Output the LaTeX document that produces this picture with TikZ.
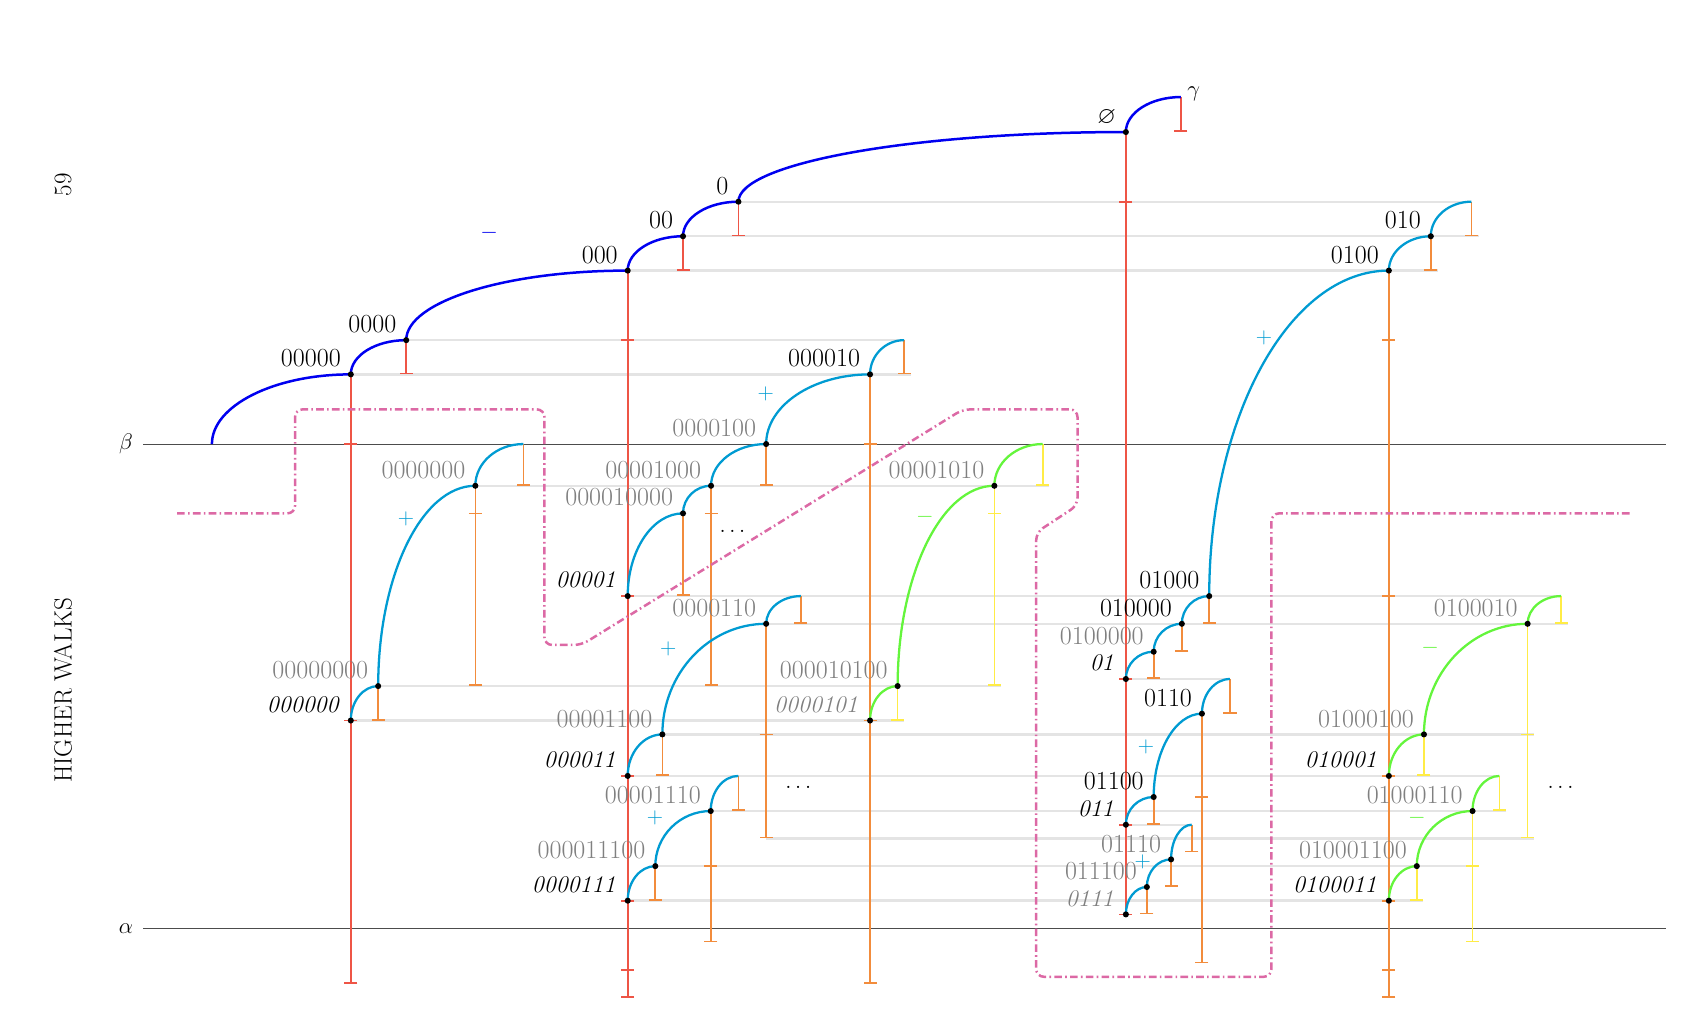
\documentclass[tikz,border=0pt]{standalone}
\usepackage{amssymb}
\usetikzlibrary{calc,arrows.meta}
\definecolor{cBlue}{RGB}{0,0,240}
\definecolor{cCyan}{RGB}{0,155,210}
\definecolor{cGreen}{RGB}{100,245,60}
\definecolor{cRed}{RGB}{238,85,70}
\definecolor{cOrange}{RGB}{242,140,60}
\definecolor{cYellow}{RGB}{255,236,70}
\definecolor{cPink}{RGB}{220,105,165}
\definecolor{cGrayLn}{RGB}{228,228,228}
\definecolor{cText}{RGB}{128,128,128}
\newcommand\stemtick[2]{\draw[#1] (#2) ++(-6,0) -- ++(12,0);}
\begin{document}
\begin{tikzpicture}[x=1pt,y=-1pt,
  every node/.style={font=\fontsize{22}{26}\selectfont, inner sep=0pt},
  qa/.style={to path={.. controls ($(\tikztostart)!0.552!(\tikztostart|-\tikztotarget)$) and ($(\tikztotarget)!0.552!(\tikztostart|-\tikztotarget)$) .. (\tikztotarget)}},
  gl/.style={line width=2.2pt, draw=cGrayLn},
  ax/.style={line width=0.9pt, draw=black!70},
  sR/.style={line width=1.5pt, draw=cRed},
  sO/.style={line width=1.5pt, draw=cOrange},
  sY/.style={line width=1.5pt, draw=cYellow},
  tb/.style={-{Bar[width=12pt]}},
  cvB/.style={line width=2.3pt, draw=cBlue},
  cvC/.style={line width=2.1pt, draw=cCyan},
  cvG/.style={line width=2.1pt, draw=cGreen},
  pinkdd/.style={line width=2.3pt, draw=cPink, dash pattern=on 7pt off 3pt on 1.5pt off 3pt, rounded corners=7pt},
  lk/.style={anchor=base east, xshift=-9pt, yshift=6.8pt, font=\fontsize{24}{28}\selectfont},
  lki/.style={anchor=base east, xshift=-11pt, yshift=7.5pt, font=\fontsize{22}{26}\selectfont\itshape},
  lg/.style={lk, text=cText},
  lgi/.style={lki, text=cText},
  sidetxt/.style={rotate=90, font=\fontsize{23}{27}\selectfont}
]
\useasboundingbox (0,0) rectangle (1568,933);
% root chain
\coordinate (r0) at (195,408.6);
\coordinate (n5) at (322.8,344.5);
\coordinate (n4) at (373.8,313);
\coordinate (n3) at (577.6,249);
\coordinate (n2) at (628.5,217.4);
\coordinate (n1) at (679.5,185.6);
\coordinate (ne) at (1036,121.5);
\coordinate (ng) at (1086.6,89.3);
% chain a
\coordinate (a0) at (322.8,663);
\coordinate (a1) at (348,631.3);
\coordinate (a2) at (437.4,447);
\coordinate (a3) at (481.6,408.6);
% chain b
\coordinate (b0) at (577.6,548.5);
\coordinate (b1) at (628.5,472.4);
\coordinate (b2) at (654.3,447);
\coordinate (b3) at (705,408.6);
\coordinate (b4) at (800.6,344.5);
\coordinate (b5) at (832,313);
% chain c
\coordinate (c0) at (800.6,663);
\coordinate (c1) at (826,631.3);
\coordinate (c2) at (915,447);
\coordinate (c3) at (959.5,408.6);
% chain d
\coordinate (d0) at (577.6,714);
\coordinate (d1) at (609.5,675.8);
\coordinate (d2) at (705,574);
\coordinate (d3) at (737,548.5);
% chain e
\coordinate (e0) at (577.6,828.8);
\coordinate (e1) at (603,797);
\coordinate (e2) at (654,746.3);
\coordinate (e3) at (679.4,714);
% chain f
\coordinate (f0) at (1036,624.8);
\coordinate (f1) at (1061.6,599.7);
\coordinate (f2) at (1087.5,574);
\coordinate (f3) at (1112.7,548.5);
\coordinate (f4) at (1278,249);
\coordinate (f5) at (1316.6,217.4);
\coordinate (f6) at (1354,185.6);
% chain g
\coordinate (g0) at (1036,758.9);
\coordinate (g1) at (1061.6,733.4);
\coordinate (g2) at (1106,656.7);
\coordinate (g3) at (1131.8,624.8);
% chain h
\coordinate (h0) at (1036,841.4);
\coordinate (h1) at (1055.3,816.2);
\coordinate (h2) at (1077.6,790.8);
\coordinate (h3) at (1096.6,758.9);
% chain i
\coordinate (i0) at (1278,714);
\coordinate (i1) at (1310.3,675.8);
\coordinate (i2) at (1405.7,574);
\coordinate (i3) at (1436.5,548.5);
% chain j
\coordinate (j0) at (1278,828.8);
\coordinate (j1) at (1303.7,797);
\coordinate (j2) at (1355,746.3);
\coordinate (j3) at (1379.7,714);
% levels
\coordinate (L472) at (0,472.4);
\coordinate (L771) at (0,771.5);
\coordinate (L784) at (0,784.3);
\coordinate (L867) at (0,867);
\coordinate (L886) at (0,886.5);
\coordinate (L892) at (0,892.6);
\coordinate (L905) at (0,905.3);
\coordinate (L918) at (0,918);
\coordinate (bL) at (132,408.6);
\coordinate (bR) at (1533,408.6);
\coordinate (aL) at (132,854.3);
\coordinate (aR) at (1533,854.3);

% gray level lines
\draw[gl] (n1) -- (f6);
\draw[gl] (n2) -- (1361,217.4);
\draw[gl] (n3) -- (1323,249);
\draw[gl] (n4) -- (b5);
\draw[gl] (n5) -- (838,344.5);
\draw[gl] (a2) -- (965.5,447);
\draw[gl] (b0) -- (i3);
\draw[gl] (d2) -- (1442.5,574);
\draw[gl] (f0) -- (g3);
\draw[gl] (a1) -- (921,631.3);
\draw[gl] (a0) -- (832,663);
\draw[gl] (d1) -- (1411.7,675.8);
\draw[gl] (d0) -- (j3);
\draw[gl] (e2) -- (1385.7,746.3);
\draw[gl] (g0) -- (h3);
\draw[gl] (d2|-L771) -- (1411.7,771.5);
\draw[gl] (e1) -- (1361,797);
\draw[gl] (e0) -- (1309.7,828.8);

% axes
\draw[ax] (bL) -- (bR);
\draw[ax] (aL) -- (aR);
\node (beta) at (116,408.6) {$\beta$};
\node (alpha) at (116,854.3) {$\alpha$};
\node[sidetxt] (pg) at (58,170) {59};
\node[sidetxt] (hw) at (58,635) {HIGHER WALKS};

% red stems
\draw[sR,tb] (n4) -- (n4|-n5);
\draw[sR,tb] (n2) -- (n2|-n3);
\draw[sR,tb] (n1) -- (n1|-n2);
\draw[sR,tb] (ng) -- (ng|-ne);
\draw[sR,tb] (n5) -- (n5|-L905);
\stemtick{sR}{n5|-r0} \stemtick{sR}{a0}
\draw[sR,tb] (n3) -- (n3|-L918);
\stemtick{sR}{n3|-n4} \stemtick{sR}{b0} \stemtick{sR}{d0} \stemtick{sR}{e0} \stemtick{sR}{n3|-L892}
\draw[sR] (ne) -- (h0);
\stemtick{sR}{ne|-n1} \stemtick{sR}{f0} \stemtick{sR}{g0} \stemtick{sR}{h0}

% orange stems
\draw[sO,tb] (a1) -- (a1|-a0);
\draw[sO,tb] (a2) -- (a2|-a1); \stemtick{sO}{a2|-L472}
\draw[sO,tb] (a3) -- (a3|-a2);
\draw[sO,tb] (b1) -- (b1|-b0);
\draw[sO,tb] (b2) -- (b2|-a1); \stemtick{sO}{b2|-L472}
\draw[sO,tb] (b3) -- (b3|-b2);
\draw[sO,tb] (b4) -- (b4|-L905); \stemtick{sO}{b4|-r0} \stemtick{sO}{c0}
\draw[sO,tb] (b5) -- (b5|-b4);
\draw[sO,tb] (d1) -- (d1|-d0);
\draw[sO,tb] (d2) -- (d2|-L771); \stemtick{sO}{d2|-d1}
\draw[sO,tb] (d3) -- (d3|-d2);
\draw[sO,tb] (e1) -- (e1|-e0);
\draw[sO,tb] (e2) -- (e2|-L867); \stemtick{sO}{e2|-e1}
\draw[sO,tb] (e3) -- (e3|-e2);
\draw[sO,tb] (f1) -- (f1|-f0);
\draw[sO,tb] (f2) -- (f2|-f1);
\draw[sO,tb] (f3) -- (f3|-f2);
\draw[sO,tb] (f4) -- (f4|-L918);
\stemtick{sO}{f4|-n4} \stemtick{sO}{f4|-f3} \stemtick{sO}{i0} \stemtick{sO}{j0} \stemtick{sO}{f4|-L892}
\draw[sO,tb] (f5) -- (f5|-f4);
\draw[sO,tb] (f6) -- (f6|-f5);
\draw[sO,tb] (g1) -- (g1|-g0);
\draw[sO,tb] (g2) -- (g2|-L886); \stemtick{sO}{g2|-g1}
\draw[sO,tb] (g3) -- (g3|-g2);
\draw[sO,tb] (h1) -- (h1|-h0);
\draw[sO,tb] (h2) -- (h2|-h1);
\draw[sO,tb] (h3) -- (h3|-L784);

% yellow stems
\draw[sY,tb] (c1) -- (c1|-c0);
\draw[sY,tb] (c2) -- (c2|-c1); \stemtick{sY}{c2|-L472}
\draw[sY,tb] (c3) -- (c3|-c2);
\draw[sY,tb] (i1) -- (i1|-i0);
\draw[sY,tb] (i2) -- (i2|-L771); \stemtick{sY}{i2|-i1}
\draw[sY,tb] (i3) -- (i3|-i2);
\draw[sY,tb] (j1) -- (j1|-j0);
\draw[sY,tb] (j2) -- (j2|-L867); \stemtick{sY}{j2|-j1}
\draw[sY,tb] (j3) -- (j3|-j2);

% pink dash-dot boundary
\draw[pinkdd] (163,472.4) -- (271.5,472.4) -- (271.5,376.7) -- (501,376.7) -- (501,593.5) -- (535,593.5) -- (886,376.7) -- (991.5,376.7) -- (991.5,465) -- (953.5,490) -- (953.5,898.8) -- (1170,898.8) -- (1170,472.4) -- (1501.5,472.4);

% walks
\draw[cvB] (r0) to[qa] (n5) to[qa] (n4) to[qa] (n3) to[qa] (n2) to[qa] (n1) to[qa] (ne) to[qa] (ng);
\draw[cvC] (a0) to[qa] (a1) to[qa] (a2) to[qa] (a3);
\draw[cvC] (b0) to[qa] (b1) to[qa] (b2) to[qa] (b3) to[qa] (b4) to[qa] (b5);
\draw[cvG] (c0) to[qa] (c1) to[qa] (c2) to[qa] (c3);
\draw[cvC] (d0) to[qa] (d1) to[qa] (d2) to[qa] (d3);
\draw[cvC] (e0) to[qa] (e1) to[qa] (e2) to[qa] (e3);
\draw[cvC] (f0) to[qa] (f1) to[qa] (f2) to[qa] (f3) to[qa] (f4) to[qa] (f5) to[qa] (f6);
\draw[cvC] (g0) to[qa] (g1) to[qa] (g2) to[qa] (g3);
\draw[cvC] (h0) to[qa] (h1) to[qa] (h2) to[qa] (h3);
\draw[cvG] (i0) to[qa] (i1) to[qa] (i2) to[qa] (i3);
\draw[cvG] (j0) to[qa] (j1) to[qa] (j2) to[qa] (j3);

% dots
\foreach \p in {n5,n4,n3,n2,n1,ne,a0,a1,a2,b0,b1,b2,b3,b4,c0,c1,c2,d0,d1,d2,e0,e1,e2,f0,f1,f2,f3,f4,f5,g0,g1,g2,h0,h1,h2,i0,i1,i2,j0,j1,j2}
  \fill[black] (\p) circle[radius=2.8pt];

% labels: black upright
\node[lk] (t-n5) at (n5) {00000};
\node[lk] (t-n4) at (n4) {0000};
\node[lk] (t-n3) at (n3) {000};
\node[lk] (t-n2) at (n2) {00};
\node[lk] (t-n1) at (n1) {0};
\node[anchor=base east, xshift=-9pt, yshift=7.5pt] (t-ne) at (ne) {$\varnothing$};
\node[anchor=west] (t-ng) at (1092.5,86) {$\gamma$};
\node[lk] (t-b4) at (b4) {000010};
\node[lk] (t-f5) at (f5) {010};
\node[lk] (t-f4) at (f4) {0100};
\node[lk] (t-f3) at (f3) {01000};
\node[lk] (t-f2) at (f2) {010000};
\node[lk] (t-g2) at (g2) {0110};
\node[lk] (t-g1) at (g1) {01100};
% black italic
\node[lki] (t-a0) at (a0) {000000};
\node[lki] (t-b0) at (b0) {00001};
\node[lki] (t-d0) at (d0) {000011};
\node[lki] (t-e0) at (e0) {0000111};
\node[lki] (t-f0) at (f0) {01};
\node[lki] (t-g0) at (g0) {011};
\node[lki] (t-i0) at (i0) {010001};
\node[lki] (t-j0) at (j0) {0100011};
% gray italic
\node[lgi] (t-c0) at (c0) {0000101};
\node[lgi] (t-h0) at (h0) {0111};
% gray upright
\node[lg] (t-a1) at (a1) {00000000};
\node[lg] (t-a2) at (a2) {0000000};
\node[lg] (t-b1) at (b1) {000010000};
\node[lg] (t-b2) at (b2) {00001000};
\node[lg] (t-b3) at (b3) {0000100};
\node[lg] (t-c1) at (c1) {000010100};
\node[lg] (t-c2) at (c2) {00001010};
\node[lg] (t-d1) at (d1) {00001100};
\node[lg] (t-d2) at (d2) {0000110};
\node[lg] (t-e1) at (e1) {000011100};
\node[lg] (t-e2) at (e2) {00001110};
\node[lg] (t-f1) at (f1) {0100000};
\node[lg] (t-h1) at (h1) {011100};
\node[lg] (t-h2) at (h2) {01110};
\node[lg] (t-i1) at (i1) {01000100};
\node[lg] (t-i2) at (i2) {0100010};
\node[lg] (t-j1) at (j1) {010001100};
\node[lg] (t-j2) at (j2) {01000110};

% signs
\node[text=cBlue] (m1) at (450,214.6) {$-$};
\node[text=cCyan] (p1) at (373.6,477) {$+$};
\node[text=cCyan] (p2) at (704.6,362) {$+$};
\node[text=cCyan] (p3) at (615,597.5) {$+$};
\node[text=cCyan] (p4) at (602.8,753) {$+$};
\node[text=cCyan] (p5) at (1163,311.3) {$+$};
\node[text=cCyan] (p6) at (1054.6,687) {$+$};
\node[text=cCyan] (p7) at (1051.6,793) {$+$};
\node[text=cGreen] (m2) at (851,476) {$-$};
\node[text=cGreen] (m3) at (1316,596.6) {$-$};
\node[text=cGreen] (m4) at (1303.7,753) {$-$};
% ellipses
\node (dd1) at (674,489) {$\ldots$};
\node (dd2) at (734.6,724.5) {$\ldots$};
\node (dd3) at (1436,724.5) {$\ldots$};
\end{tikzpicture}
\end{document}
